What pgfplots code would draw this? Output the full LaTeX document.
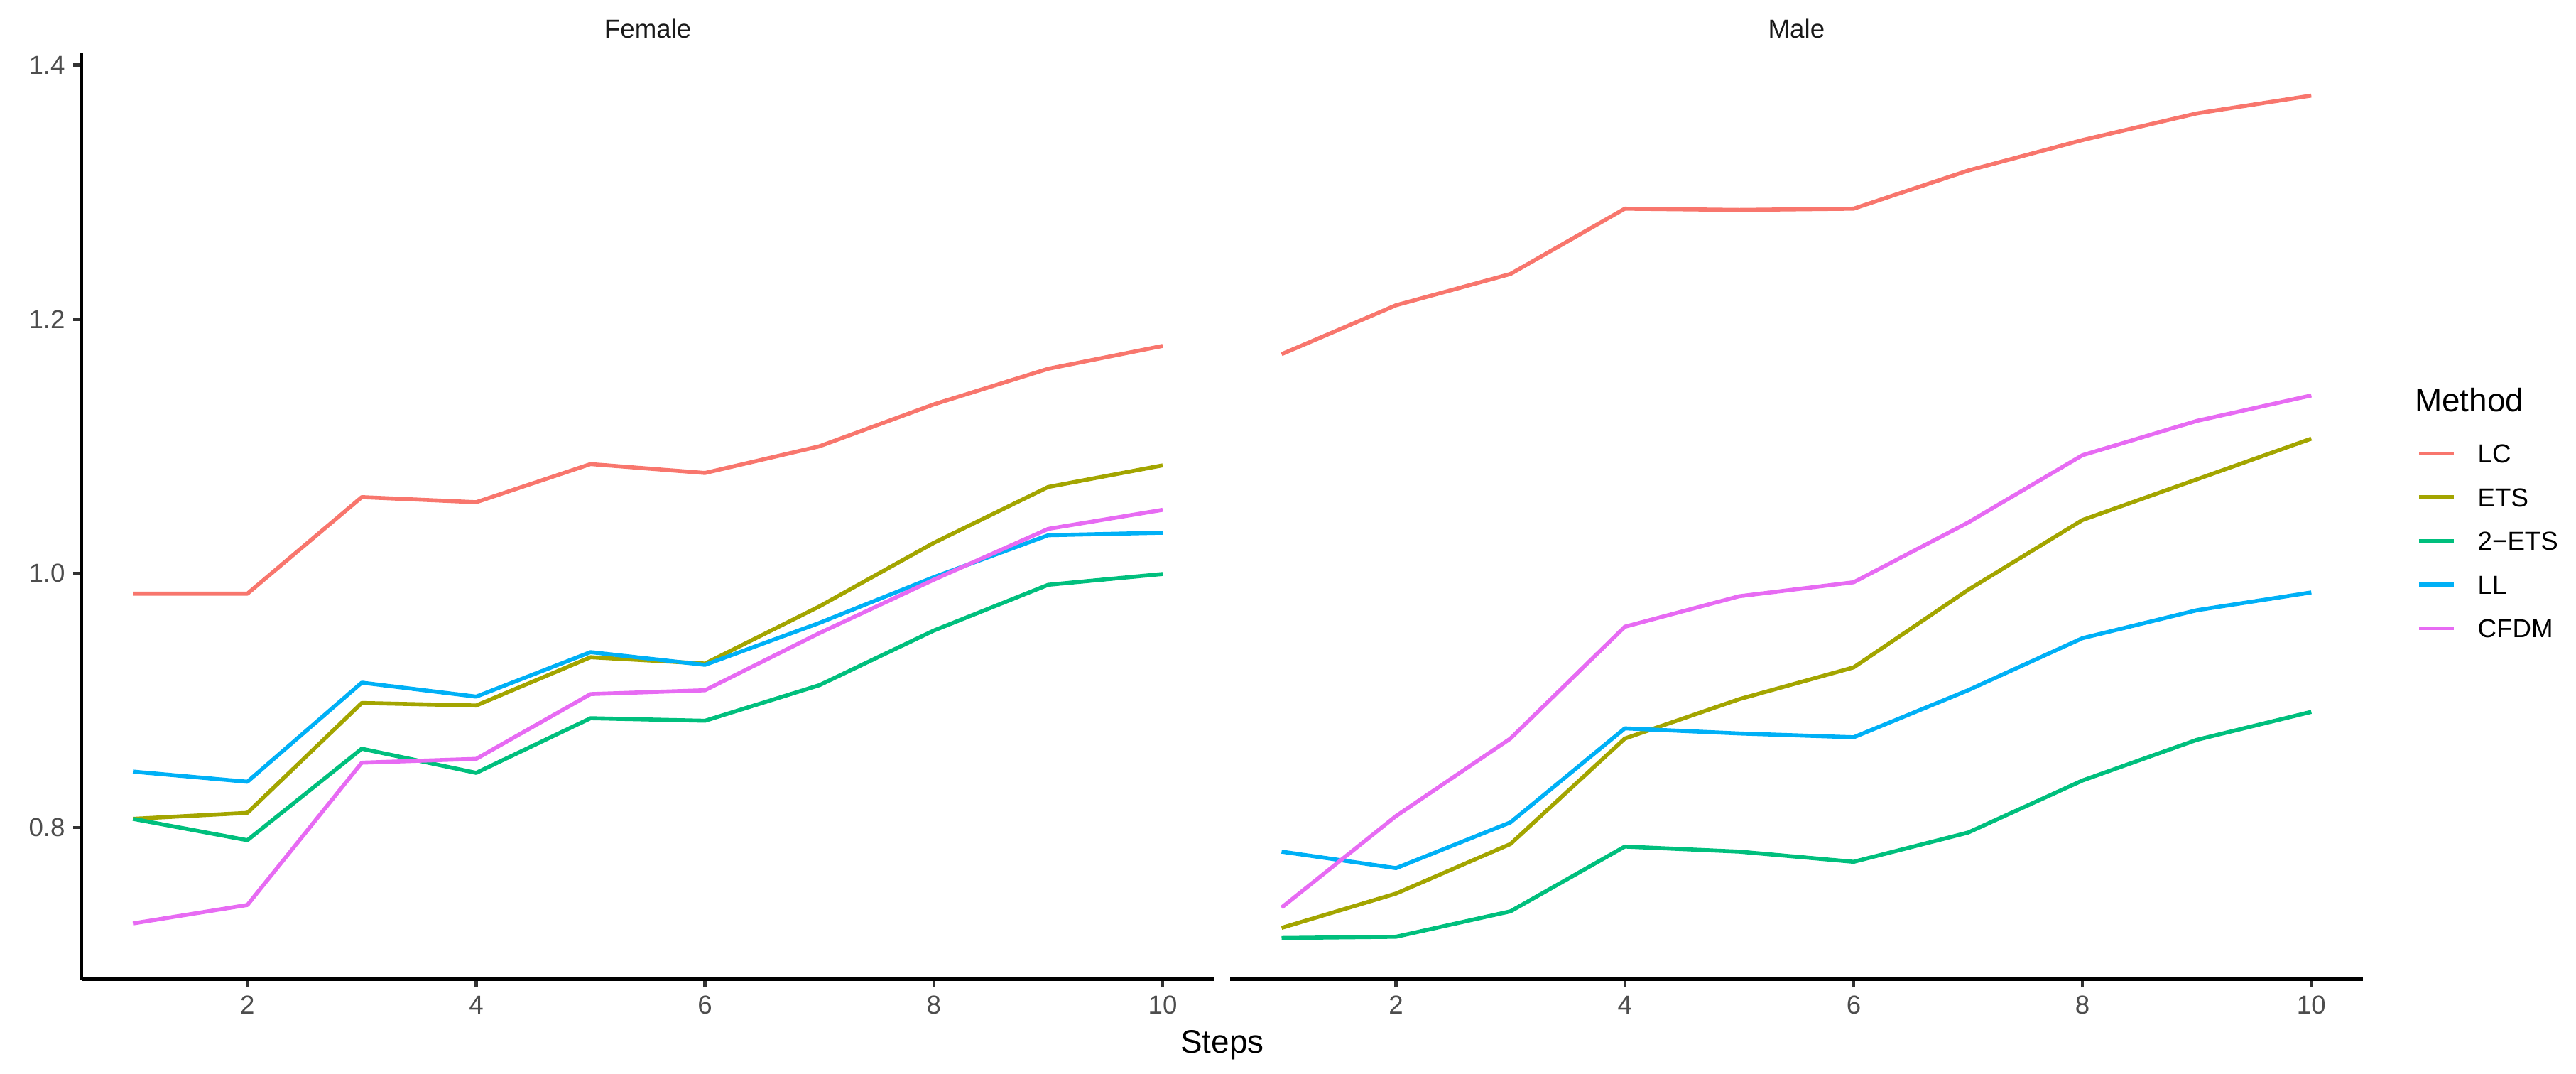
\documentclass[border=0pt]{standalone}
\usepackage{fontspec}
\setmainfont{Liberation Sans}
\usepackage{pgfplots}
\pgfplotsset{compat=1.18}
\definecolor{cLC}{HTML}{F8766D}
\definecolor{cETS}{HTML}{A3A500}
\definecolor{cTETS}{HTML}{00BF7D}
\definecolor{cLL}{HTML}{00B0F6}
\definecolor{cCFDM}{HTML}{E76BF3}
\definecolor{gray30}{HTML}{4D4D4D}
\definecolor{gray20}{HTML}{333333}
\definecolor{gray10}{HTML}{1A1A1A}
\pgfplotsset{
  facet/.style={
    scale only axis,
    width=382.75pt, height=312.89pt,
    xmin=0.55, xmax=10.45, ymin=0.6805, ymax=1.4093,
    xtick={2,4,6,8,10}, xticklabels={2,4,6,8,10},
    ytick={0.8,1.0,1.2,1.4}, yticklabels={0.8,1.0,1.2,1.4},
    /pgf/number format/assume math mode=true,
    axis x line*=bottom, axis y line*=left,
    axis line style={line width=1.13pt, black, -},
    tick align=outside, major tick length=2.75pt,
    tick style={line width=1.07pt, gray20},
    minor tick num=0,
    tick label style={font=\fontsize{8.8}{10}\selectfont, text=gray30, inner sep=0pt},
    xticklabel style={yshift=-2.65pt},
    yticklabel style={xshift=-2.6pt},
    every axis plot/.append style={line width=1.35pt, line join=round, no markers},
    clip=false,
  }
}
\begin{document}
\begin{tikzpicture}
\path[use as bounding box] (0,0) rectangle (870.48pt,362.64pt);
% Female panel
\begin{axis}[facet, at={(27.53pt,31.75pt)}, anchor=south west]
\addplot[cLC] coordinates {(1,0.984) (2,0.984) (3,1.060) (4,1.056) (5,1.086) (6,1.079) (7,1.100) (8,1.133) (9,1.161) (10,1.179)};
\addplot[cETS] coordinates {(1,0.8068) (2,0.8115) (3,0.898) (4,0.896) (5,0.934) (6,0.929) (7,0.974) (8,1.024) (9,1.068) (10,1.085)};
\addplot[cTETS] coordinates {(1,0.8068) (2,0.790) (3,0.862) (4,0.843) (5,0.886) (6,0.884) (7,0.912) (8,0.955) (9,0.991) (10,0.9995)};
\addplot[cLL] coordinates {(1,0.844) (2,0.836) (3,0.914) (4,0.903) (5,0.938) (6,0.928) (7,0.961) (8,0.997) (9,1.030) (10,1.032)};
\addplot[cCFDM] coordinates {(1,0.7245) (2,0.739) (3,0.851) (4,0.854) (5,0.905) (6,0.908) (7,0.953) (8,0.995) (9,1.035) (10,1.050)};
\end{axis}
% Male panel
\begin{axis}[facet, at={(415.68pt,31.75pt)}, anchor=south west,
  axis y line=none, ytick=\empty,
  legend style={draw=none, fill=none, at={(1.04799,0.57784)}, anchor=north west,
    inner sep=0pt, outer sep=0pt, row sep=8.46pt, column sep=0pt,
    font=\fontsize{8.8}{10}\selectfont,
    nodes={inner sep=0pt, text height=6.3pt, text depth=0pt}},
  legend cell align=left,
  legend image code/.code={\draw[#1, line width=1.25pt] (0pt,0pt) -- (11.86pt,0pt); \path (19.19pt,0pt);}]
\addplot[cLC] coordinates {(1,1.1725) (2,1.211) (3,1.2356) (4,1.287) (5,1.286) (6,1.287) (7,1.317) (8,1.341) (9,1.362) (10,1.376)};
\addlegendentry{LC}
\addplot[cETS] coordinates {(1,0.721) (2,0.748) (3,0.787) (4,0.870) (5,0.901) (6,0.926) (7,0.987) (8,1.042) (9,1.074) (10,1.106)};
\addlegendentry{ETS}
\addplot[cTETS] coordinates {(1,0.713) (2,0.714) (3,0.734) (4,0.785) (5,0.781) (6,0.773) (7,0.796) (8,0.837) (9,0.869) (10,0.891)};
\addlegendentry{2\symbol{"2212}ETS}
\addplot[cLL] coordinates {(1,0.781) (2,0.768) (3,0.804) (4,0.878) (5,0.874) (6,0.871) (7,0.908) (8,0.949) (9,0.971) (10,0.985)};
\addlegendentry{LL}
\addplot[cCFDM] coordinates {(1,0.737) (2,0.809) (3,0.870) (4,0.958) (5,0.982) (6,0.993) (7,1.040) (8,1.093) (9,1.120) (10,1.140)};
\addlegendentry{CFDM}
\end{axis}
% strip labels, axis title, legend title
\node[anchor=base, inner sep=0pt, text=gray10, font=\fontsize{8.8}{10}\selectfont] at (218.9pt,349.85pt) {Female};
\node[anchor=base, inner sep=0pt, text=gray10, font=\fontsize{8.8}{10}\selectfont] at (607.06pt,349.85pt) {Male};
\node[anchor=base, inner sep=0pt, font=\fontsize{11}{13}\selectfont] at (413.0pt,6.96pt) {Steps};
\node[anchor=base west, inner sep=0pt, font=\fontsize{11}{13}\selectfont] at (815.83pt,223.61pt) {Method};
\end{tikzpicture}
\end{document}
